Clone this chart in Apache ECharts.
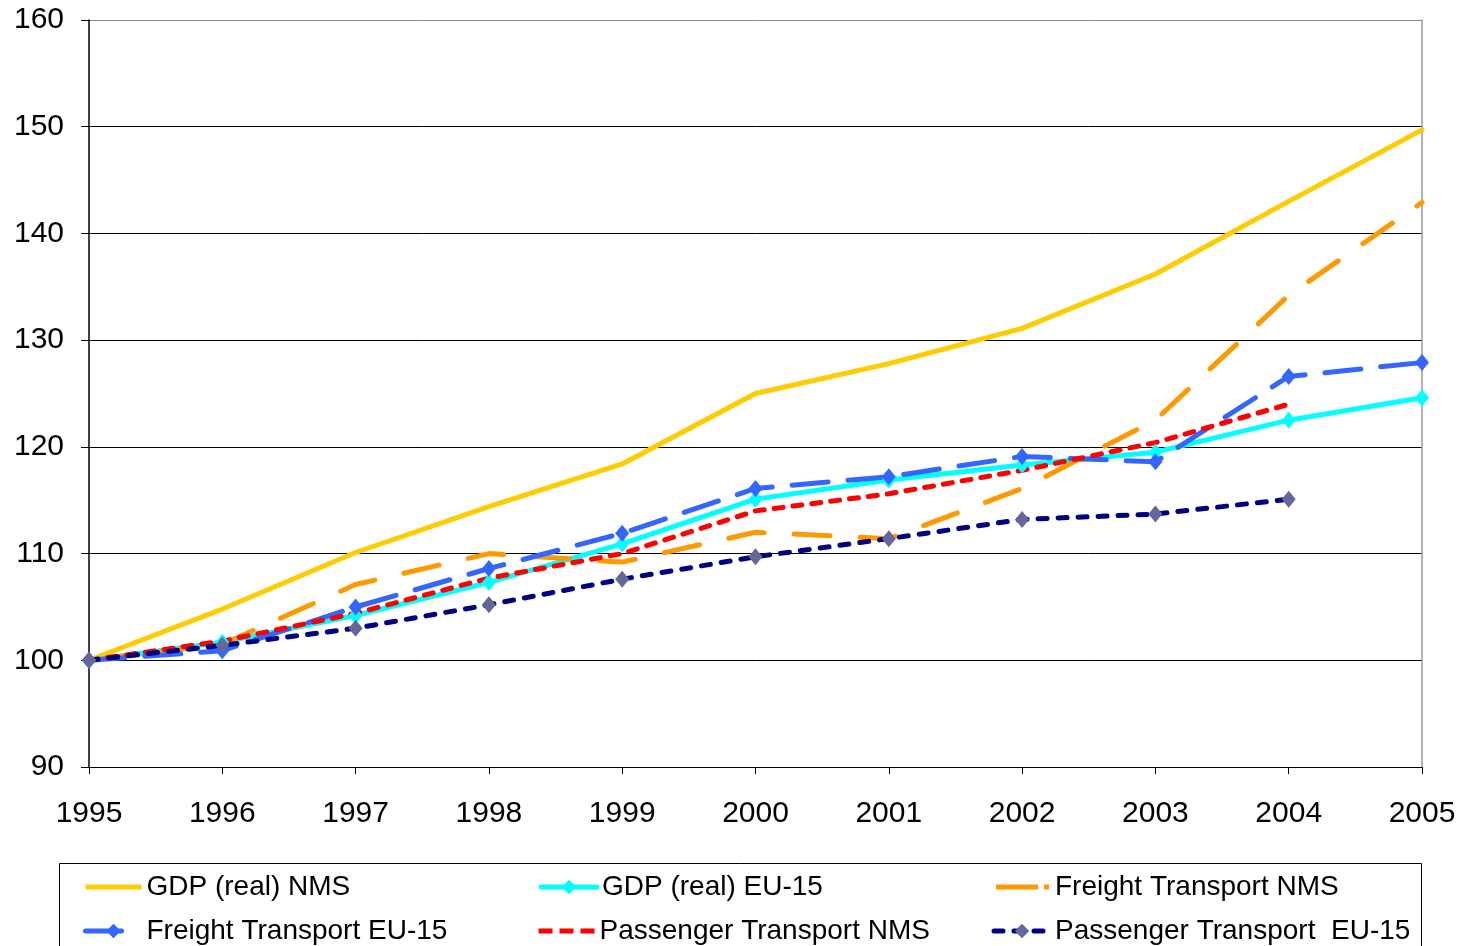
<!DOCTYPE html>
<html>
<head>
<meta charset="utf-8">
<script src="https://cdn.jsdelivr.net/npm/echarts@6/dist/echarts.min.js"></script>
<style>
  html, body { margin: 0; padding: 0; background: #fff; }
  #chart { width: 1460px; height: 946px; }
</style>
</head>
<body>
<div id="chart"></div>
<script>
const years = ['1995', '1996', '1997', '1998', '1999', '2000', '2001', '2002', '2003', '2004', '2005']

const gdpNms = [100, 104.8, 110.1, 114.4, 118.4, 125.0, 127.8, 131.1, 136.2, 143.0, 149.7]
const gdpEu15 = [100, 101.7, 104.2, 107.3, 110.9, 115.1, 116.9, 118.3, 119.5, 122.5, 124.6]
const freightNms = [100, 101.5, 107.1, 110.0, 109.2, 112.0, 111.4, 116.1, 122.5, 134.2, 142.9]
const freightEu15 = [100, 100.9, 105.0, 108.6, 111.9, 116.1, 117.2, 119.1, 118.6, 126.6, 127.9]
const passengerNms = [100, 101.8, 104.4, 107.7, 110.0, 114.0, 115.6, 117.8, 120.4, 124.0, null]
const passengerEu15 = [100, 101.4, 103.0, 105.2, 107.6, 109.7, 111.4, 113.2, 113.7, 115.1, null]

const font = "'Liberation Sans', Arial, sans-serif"

// legend icons for the series that have no markers (plain line, dash+dot, short dashes)
// the zero-length moves keep the icon box 56x16 so the bar is not stretched
const box = 'M0,0L0,0M56,16L56,16'
const iconSolid = 'path://' + box + 'M0,5.5h56v5h-56z'
const iconDashDot = 'path://' + box + 'M2,5.5h42v5h-42zM50,5.5h5v5h-5z'
const iconShortDash = 'path://' + box + 'M0,5.5h14v5h-14zM21,5.5h14v5h-14zM42,5.5h14v5h-14z'

const chart = echarts.init(document.getElementById('chart'))

const makeLine = (name, data, color, width, dash, symbol, symbolColor) => ({
  name,
  type: 'line',
  data,
  symbol: symbol || 'none',
  symbolSize: [14, 17],
  showSymbol: !!symbol,
  itemStyle: { color: symbolColor || color },
  lineStyle: { color, width, type: dash || 'solid', cap: 'round', join: 'round' },
  emphasis: { disabled: true },
  animation: false
})

chart.setOption({
  backgroundColor: '#fff',
  animation: false,
  grid: { left: 89, right: 38, top: 20, bottom: 179 },
  xAxis: {
    type: 'category',
    data: years,
    boundaryGap: false,
    axisLine: { lineStyle: { color: '#000', width: 1 } },
    axisTick: { show: true, length: 7, lineStyle: { color: '#000' } },
    axisLabel: { color: '#000', fontSize: 30, fontFamily: font, margin: 32 },
    splitLine: { show: false }
  },
  yAxis: [
    {
      type: 'value',
      min: 90,
      max: 160,
      interval: 10,
      axisLine: { show: true, lineStyle: { color: '#000', width: 1.5 } },
      axisTick: { show: true, length: 8, lineStyle: { color: '#000' } },
      axisLabel: { color: '#000', fontSize: 30, fontFamily: font, margin: 25 },
      splitLine: {
        show: true,
        lineStyle: { color: ['#000', '#000', '#000', '#000', '#000', '#000', '#000', '#888'], width: 1 }
      }
    },
    {
      type: 'value',
      position: 'right',
      min: 90,
      max: 160,
      interval: 10,
      axisLine: { show: true, lineStyle: { color: '#999', width: 1.5 } },
      axisTick: { show: false },
      axisLabel: { show: false },
      splitLine: { show: false }
    }
  ],
  legend: {
    left: 83,
    top: 872,
    width: 1360,
    padding: 0,
    itemWidth: 56,
    itemHeight: 18,
    itemGap: 14,
    lineStyle: { width: 5 },
    textStyle: { color: '#000', fontSize: 28, fontFamily: font, width: 378, lineHeight: 30 },
    data: [
      { name: 'GDP (real) NMS', icon: iconSolid },
      'GDP (real) EU-15',
      { name: 'Freight Transport NMS', icon: iconDashDot },
      'Freight Transport EU-15',
      { name: 'Passenger Transport NMS', icon: iconShortDash },
      'Passenger Transport  EU-15'
    ]
  },
  graphic: [{
    type: 'rect',
    shape: { x: 59.5, y: 863.5, width: 1362, height: 120 },
    style: { fill: 'none', stroke: '#000', lineWidth: 1 },
    silent: true
  }],
  series: [
    makeLine('GDP (real) NMS', gdpNms, '#FFCC00', 5),
    makeLine('GDP (real) EU-15', gdpEu15, '#00FFFF', 5, 'solid', 'diamond'),
    makeLine('Freight Transport NMS', freightNms, '#FF9900', 5, [36, 30]),
    makeLine('Freight Transport EU-15', freightEu15, '#3366FF', 5, [36, 20], 'diamond'),
    makeLine('Passenger Transport NMS', passengerNms, '#FF0000', 5, [9, 10]),
    makeLine('Passenger Transport  EU-15', passengerEu15, '#000080', 5, [9, 11], 'diamond', '#666699')
  ]
})
</script>
</body>
</html>
